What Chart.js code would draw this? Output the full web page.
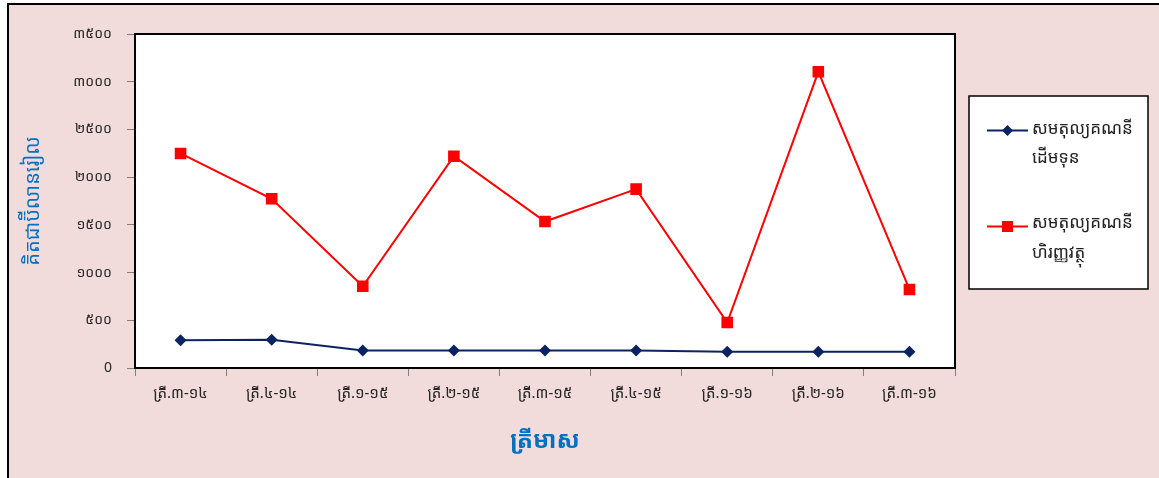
<!DOCTYPE html>
<html>
<head>
<meta charset="utf-8">
<script src="https://cdn.jsdelivr.net/npm/chart.js@4.4.1/dist/chart.umd.min.js"></script>
<style>
  html, body { margin: 0; padding: 0; background: #ffffff; }
  #wrap { width: 1159px; height: 478px; position: relative; }
</style>
</head>
<body>
<div id="wrap"><canvas id="c" width="1159" height="478"></canvas></div>
<script>
const categories = ['ត្រី.៣-១៤', 'ត្រី.៤-១៤', 'ត្រី.១-១៥', 'ត្រី.២-១៥', 'ត្រី.៣-១៥', 'ត្រី.៤-១៥', 'ត្រី.១-១៦', 'ត្រី.២-១៦', 'ត្រី.៣-១៦'];
const capitalAccount = [291, 296, 183, 183, 183, 183, 170, 170, 170];
const financialAccount = [2248, 1773, 857, 2219, 1535, 1874, 477, 3104, 823];
const yTickLabels = ['0', '៥០០', '១០០០', '១៥០០', '២០០០', '២៥០០', '៣០០០', '៣៥០០'];
const seriesNames = [['សមតុល្យគណនី', 'ដើមទុន'], ['សមតុល្យគណនី', 'ហិរញ្ញវត្ថុ']];
const yTitle = 'គិតជាប៊ីលានរៀល';
const xTitle = 'ត្រីមាស';

const FONT = '"Noto Sans Khmer", "Khmer OS", "Khmer OS System", "DejaVu Sans", sans-serif';
const BLUE = '#0B2361';
const RED = '#FF0000';

const framePlugin = {
  id: 'frame',
  beforeDraw(chart) {
    const ctx = chart.ctx;
    ctx.save();
    ctx.fillStyle = '#ffffff';
    ctx.fillRect(0, 0, chart.width, chart.height);
    ctx.fillStyle = '#F2DCDB';
    ctx.fillRect(8, 3, chart.width - 8, chart.height - 3);
    ctx.strokeStyle = '#000000';
    ctx.lineWidth = 2;
    ctx.beginPath();
    ctx.moveTo(8, chart.height);
    ctx.lineTo(8, 4);
    ctx.lineTo(chart.width, 4);
    ctx.stroke();
    const a = chart.chartArea;
    ctx.fillStyle = '#ffffff';
    ctx.fillRect(a.left, a.top, a.right - a.left, a.bottom - a.top);
    ctx.restore();
  },
  afterDatasetsDraw(chart) {
    const ctx = chart.ctx;
    const a = chart.chartArea;
    ctx.save();
    ctx.strokeStyle = '#000000';
    ctx.lineWidth = 2;
    ctx.strokeRect(a.left, a.top, a.right - a.left, a.bottom - a.top);
    // legend box
    const lx = 969, ly = 96, lw = 179, lh = 193;
    ctx.fillStyle = '#ffffff';
    ctx.fillRect(lx, ly, lw, lh);
    ctx.lineWidth = 1.5;
    ctx.strokeRect(lx, ly, lw, lh);
    const items = [{ y: 130.5, t: 129, t2: 158 }, { y: 226.5, t: 223, t2: 253 }];
    chart.data.datasets.forEach((ds, i) => {
      const it = items[i];
      ctx.strokeStyle = ds.borderColor;
      ctx.lineWidth = 2;
      ctx.beginPath();
      ctx.moveTo(987, it.y);
      ctx.lineTo(1028, it.y);
      ctx.stroke();
      ctx.fillStyle = ds.pointBackgroundColor;
      ctx.beginPath();
      if (i === 0) {
        const r = 5.5;
        ctx.moveTo(1007.5, it.y - r);
        ctx.lineTo(1007.5 + r, it.y);
        ctx.lineTo(1007.5, it.y + r);
        ctx.lineTo(1007.5 - r, it.y);
        ctx.closePath();
      } else {
        ctx.rect(1002, it.y - 5.5, 11, 11);
      }
      ctx.fill();
      ctx.fillStyle = '#222222';
      ctx.font = '17px ' + FONT;
      ctx.textBaseline = 'middle';
      ctx.textAlign = 'left';
      ctx.fillText(seriesNames[i][0], 1032, it.t);
      ctx.fillText(seriesNames[i][1], 1032, it.t2);
    });
    ctx.restore();
  }
};

new Chart(document.getElementById('c'), {
  type: 'line',
  data: {
    labels: categories,
    datasets: [
      {
        label: seriesNames[0].join(''),
        data: capitalAccount,
        borderColor: BLUE,
        backgroundColor: BLUE,
        pointBackgroundColor: BLUE,
        pointBorderColor: BLUE,
        borderWidth: 2,
        pointStyle: 'rectRot',
        pointRadius: 6,
        pointBorderWidth: 0,
        tension: 0
      },
      {
        label: seriesNames[1].join(''),
        data: financialAccount,
        borderColor: RED,
        backgroundColor: RED,
        pointBackgroundColor: RED,
        pointBorderColor: RED,
        borderWidth: 2,
        pointStyle: 'rect',
        pointRadius: 8.2,
        pointBorderWidth: 0,
        tension: 0
      }
    ]
  },
  options: {
    responsive: false,
    animation: false,
    devicePixelRatio: 1,
    layout: { padding: { left: 0, right: 204, top: 34, bottom: 0 } },
    plugins: {
      legend: { display: false },
      tooltip: { enabled: false }
    },
    scales: {
      x: {
        offset: true,
        grid: { offset: true, drawOnChartArea: false, drawTicks: true, tickLength: 8, color: '#7f7f7f', lineWidth: 1 },
        border: { display: true, color: '#000000', width: 2 },
        ticks: { color: '#262626', font: { family: FONT, size: 15 }, padding: 9, maxRotation: 0, autoSkip: false },
        title: { display: true, text: xTitle, color: '#0070C0', font: { family: FONT, size: 24, weight: 'bold' }, padding: { top: 10, bottom: 22 } },
        afterFit(scale) { scale.height = 110; }
      },
      y: {
        min: 0,
        max: 3500,
        grid: { drawOnChartArea: false, drawTicks: true, tickLength: 8, color: '#7f7f7f', lineWidth: 1 },
        border: { display: true, color: '#000000', width: 2 },
        ticks: {
          stepSize: 500,
          color: '#262626',
          font: { family: FONT, size: 14 },
          padding: 15,
          callback: function (v) { return yTickLabels[Math.round(v / 500)]; }
        },
        title: { display: true, text: yTitle, color: '#0070C0', font: { family: FONT, size: 20 }, padding: { top: 21, bottom: 0 } },
        afterFit(scale) { scale.width = 135; }
      }
    }
  },
  plugins: [framePlugin]
});
</script>
</body>
</html>
